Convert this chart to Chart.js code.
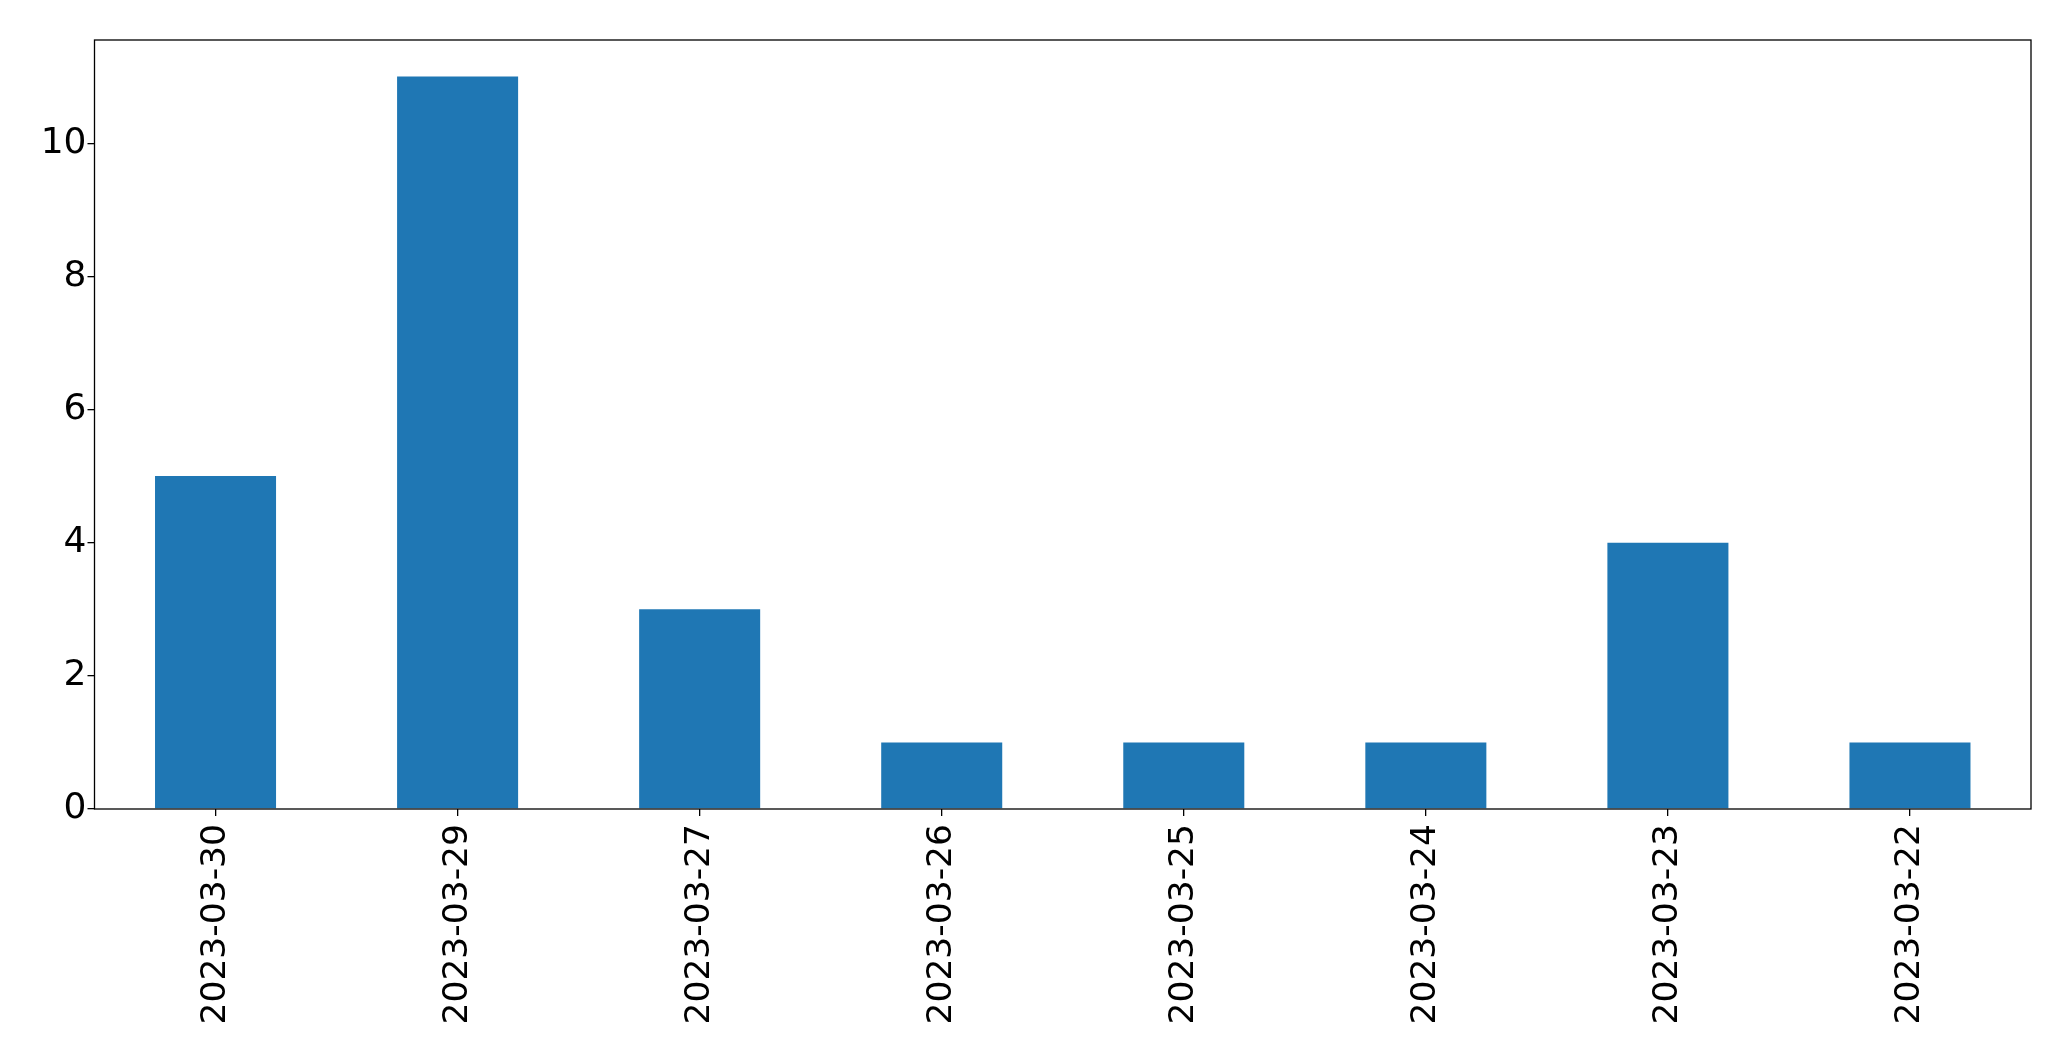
<!DOCTYPE html>
<html>
<head>
<meta charset="utf-8">
<script src="https://cdn.jsdelivr.net/npm/chart.js@4.4.1/dist/chart.umd.min.js"></script>
<style>
  html, body { margin: 0; padding: 0; background: #fff; }
  #wrap { width: 2071px; height: 1061px; }
</style>
</head>
<body>
<div id="wrap"><canvas id="grafica" width="2071" height="1061"></canvas></div>
<script>
const fechas = ["2023-03-30", "2023-03-29", "2023-03-27", "2023-03-26", "2023-03-25", "2023-03-24", "2023-03-23", "2023-03-22"];
const conteos = [5, 11, 3, 1, 1, 1, 4, 1];
const ticksY = [0, 2, 4, 6, 8, 10];

const marco = {
    id: "marco",
    afterDraw(chart) {
        const { ctx, chartArea } = chart;
        ctx.save();
        ctx.strokeStyle = "#000";
        ctx.lineWidth = 1.3;
        ctx.strokeRect(chartArea.left, chartArea.top, chartArea.right - chartArea.left, chartArea.bottom - chartArea.top);
        ctx.restore();
    }
};

const familia = "'DejaVu Sans', sans-serif";

new Chart(document.getElementById("grafica"), {
    type: "bar",
    data: {
        labels: fechas,
        datasets: [{
            data: conteos,
            backgroundColor: "#1f77b4",
            borderWidth: 0,
            barPercentage: 0.5,
            categoryPercentage: 1.0
        }]
    },
    options: {
        responsive: false,
        animation: false,
        layout: { padding: { top: 40, right: 40, left: 0, bottom: 0 } },
        plugins: { legend: { display: false }, tooltip: { enabled: false } },
        scales: {
            x: {
                offset: true,
                grid: { offset: false, drawOnChartArea: false, tickLength: 7, color: "#000", lineWidth: 1.3 },
                border: { display: false },
                ticks: { color: "#000", font: { family: familia, size: 34.5 }, minRotation: 90, maxRotation: 90, padding: 8, autoSkip: false },
                afterFit(scale) { scale.height = 1061 - 809; }
            },
            y: {
                min: 0,
                max: 11.55,
                afterBuildTicks(scale) { scale.ticks = ticksY.map(v => ({ value: v })); },
                grid: { drawOnChartArea: false, tickLength: 7, color: "#000", lineWidth: 1.3 },
                border: { display: false },
                ticks: { color: "#000", font: { family: familia, size: 36 }, padding: 1 },
                afterFit(scale) { scale.width = 94.5; }
            }
        }
    },
    plugins: [marco]
});
</script>
</body>
</html>
